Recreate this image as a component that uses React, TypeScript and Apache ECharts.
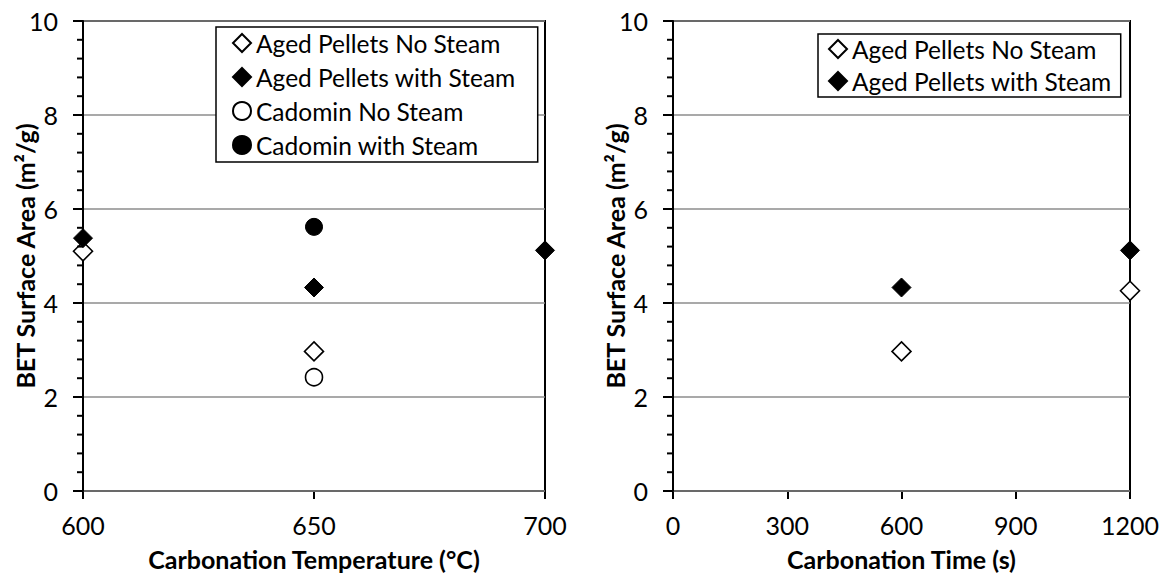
import React, { useEffect, useRef } from "react";
import * as echarts from "echarts";

const FONT = "Lato";

// Left chart: carbonation temperature (°C)
const tempTicks = [600, 650, 700];
const agedNoSteamTempX = [600, 650];
const agedNoSteamTempY = [5.1, 2.97];
const agedSteamTempX = [600, 650, 700];
const agedSteamTempY = [5.38, 4.33, 5.12];
const cadominNoSteamX = [650];
const cadominNoSteamY = [2.42];
const cadominSteamX = [650];
const cadominSteamY = [5.62];

// Right chart: carbonation time (s)
const timeTicks = [0, 300, 600, 900, 1200];
const agedNoSteamTimeX = [600, 1200];
const agedNoSteamTimeY = [2.97, 4.26];
const agedSteamTimeX = [600, 1200];
const agedSteamTimeY = [4.33, 5.12];

const yTicks = [0, 2, 4, 6, 8, 10];
const yMajorStep = 2;
const yMinorTicks = [
  0.4, 0.8, 1.2, 1.6, 2.4, 2.8, 3.2, 3.6, 4.4, 4.8, 5.2, 5.6, 6.4, 6.8, 7.2, 7.6, 8.4, 8.8, 9.2, 9.6,
];

const NAMES = [
  "Aged Pellets No Steam",
  "Aged Pellets with Steam",
  "Cadomin No Steam",
  "Cadomin with Steam",
];

const GRIDS = [
  { left: 83, top: 21, width: 462, height: 470 },
  { left: 673, top: 21, width: 457, height: 470 },
];

const zip = (xs: number[], ys: number[]) => xs.map((x, i) => [x, ys[i]]);

const openStyle = { color: "#ffffff", borderColor: "#000000", borderWidth: 1.6, opacity: 1 };
const filledStyle = { color: "#000000", borderColor: "#000000", borderWidth: 1, opacity: 1 };

export default function App() {
  const ref = useRef<HTMLDivElement>(null);
  useEffect(() => {
    if (!ref.current) return;
    const chart = echarts.init(ref.current, undefined, { renderer: "svg" });

    const yAxisBase = (gridIndex: number) => ({
      type: "value",
      gridIndex,
      position: "left",
      min: yTicks[0],
      max: yTicks[yTicks.length - 1],
      interval: yMajorStep,
      name: "BET Surface Area (m²/g)",
      nameLocation: "middle",
      nameGap: 46,
      nameMoveOverlap: false,
      nameTextStyle: { fontFamily: FONT, fontWeight: "bold", fontSize: 25, color: "#000" },
      axisLine: { show: true, onZero: false, lineStyle: { color: "#000", width: 2 } },
      axisTick: { show: true, inside: false, length: 10, lineStyle: { color: "#000", width: 2 } },
      axisLabel: { fontFamily: FONT, fontSize: 25, color: "#000", margin: 25 },
      splitLine: { show: true, lineStyle: { color: "#8c8c8c", width: 1.5 } },
      z: 3,
    });

    const xAxisBase = (gridIndex: number, ticks: number[], interval: number, name: string) => ({
      type: "value",
      gridIndex,
      min: ticks[0],
      max: ticks[ticks.length - 1],
      interval,
      name,
      nameLocation: "middle",
      nameGap: 55,
      nameMoveOverlap: false,
      nameTextStyle: { fontFamily: FONT, fontWeight: "bold", fontSize: 25, color: "#000" },
      axisLine: { show: true, onZero: false, lineStyle: { color: "#000", width: 2 } },
      axisTick: { show: true, inside: false, length: 8, lineStyle: { color: "#000", width: 2 } },
      axisLabel: { fontFamily: FONT, fontSize: 25, color: "#000", margin: 21, formatter: (v: number) => String(v) },
      splitLine: { show: false },
    });

    const scatter = (
      name: string,
      xi: number,
      data: number[][],
      symbol: string,
      size: number,
      style: any
    ) => ({
      type: "scatter",
      name,
      xAxisIndex: xi,
      yAxisIndex: xi,
      data,
      symbol,
      symbolSize: size,
      itemStyle: style,
      clip: false,
      z: 10,
      emphasis: { disabled: true },
    });

    // y-axis ticks drawn through the axis scales: majors 10px, minors 6px
    const tickSeries = (xi: number, xMin: number) => ({
      type: "custom",
      name: "yticks" + xi,
      coordinateSystem: "cartesian2d",
      xAxisIndex: xi,
      yAxisIndex: xi,
      silent: true,
      clip: false,
      z: 50,
      data: [
        ...yMinorTicks.map((v) => [xMin, v, 6]),
        ...yTicks.map((v) => [xMin, v, 10]),
      ],
      encode: { x: 0, y: 1 },
      renderItem: (_params: any, api: any) => {
        const p = api.coord([api.value(0), api.value(1)]);
        const len = api.value(2);
        return {
          type: "line",
          shape: { x1: p[0] - len, y1: p[1], x2: p[0], y2: p[1] },
          style: { stroke: "#000000", lineWidth: 2 },
        };
      },
    });

    const legendBase = {
      orient: "vertical",
      itemWidth: 18,
      itemHeight: 18,
      itemGap: 8,
      backgroundColor: "#ffffff",
      borderColor: "#000",
      borderWidth: 1.5,
      borderRadius: 0,
      textStyle: { fontFamily: FONT, fontSize: 24.5, color: "#000", lineHeight: 26 },
      selectedMode: false,
      z: 20,
    };

    chart.setOption({
      animation: false,
      backgroundColor: "#ffffff",
      grid: GRIDS.map((g) => ({
        ...g,
        show: true,
        borderColor: "#000",
        borderWidth: 2,
        backgroundColor: "transparent",
        containLabel: false,
        outerBoundsMode: "none",
      })),
      xAxis: [
        xAxisBase(0, tempTicks, 50, "Carbonation Temperature (°C)"),
        xAxisBase(1, timeTicks, 300, "Carbonation Time (s)"),
      ],
      yAxis: [yAxisBase(0), yAxisBase(1)],
      legend: [
        {
          ...legendBase,
          left: 216,
          top: 27,
          padding: [3, 22, 4, 16],
          data: [
            { name: NAMES[0], icon: "diamond" },
            { name: NAMES[1], icon: "diamond" },
            { name: NAMES[2], icon: "circle" },
            { name: NAMES[3], icon: "circle" },
          ],
        },
        {
          ...legendBase,
          left: 818,
          top: 34,
          itemGap: 6,
          padding: [2, 9, 3, 10],
          data: [
            { name: NAMES[0], icon: "diamond" },
            { name: NAMES[1], icon: "diamond" },
          ],
        },
      ],
      series: [
        tickSeries(0, tempTicks[0]),
        tickSeries(1, timeTicks[0]),
        scatter(NAMES[0], 0, zip(agedNoSteamTempX, agedNoSteamTempY), "diamond", 19, openStyle),
        scatter(NAMES[1], 0, zip(agedSteamTempX, agedSteamTempY), "diamond", 19, filledStyle),
        scatter(NAMES[2], 0, zip(cadominNoSteamX, cadominNoSteamY), "circle", 17, openStyle),
        scatter(NAMES[3], 0, zip(cadominSteamX, cadominSteamY), "circle", 17, filledStyle),
        scatter(NAMES[0], 1, zip(agedNoSteamTimeX, agedNoSteamTimeY), "diamond", 19, openStyle),
        scatter(NAMES[1], 1, zip(agedSteamTimeX, agedSteamTimeY), "diamond", 19, filledStyle),
      ],
    });
    return () => chart.dispose();
  }, []);

  return (
    <div
      ref={ref}
      style={{ position: "fixed", left: 0, top: 0, width: 1163, height: 578, background: "#fff" }}
    />
  );
}
